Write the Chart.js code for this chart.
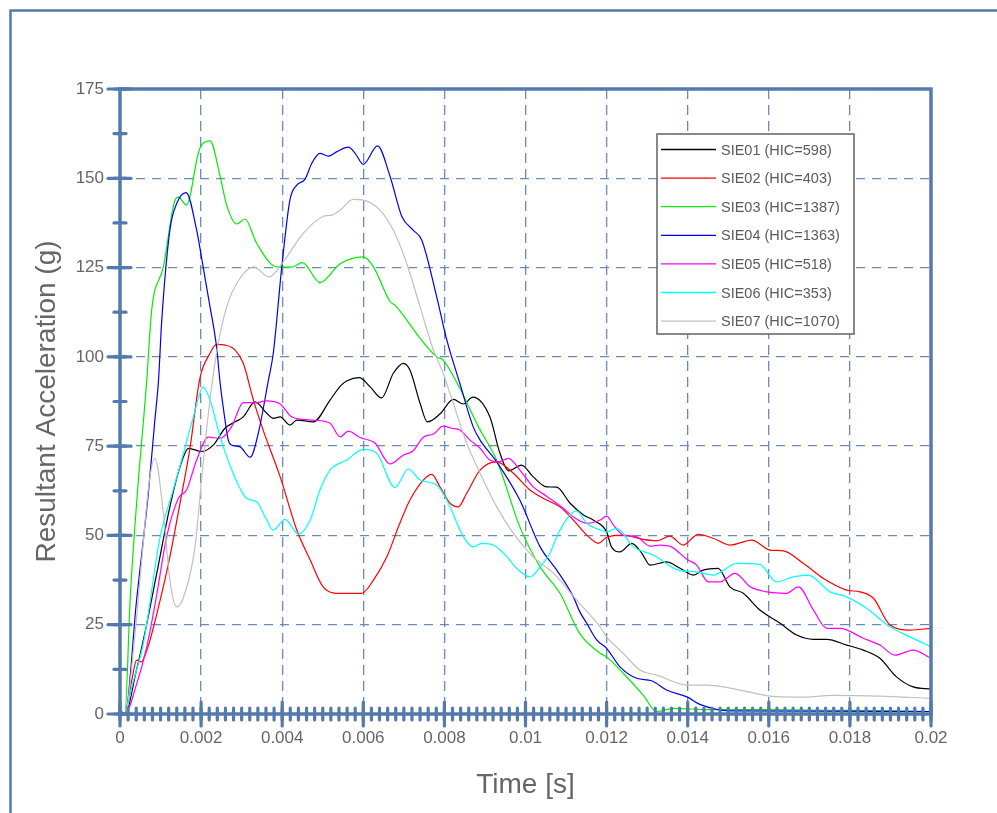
<!DOCTYPE html>
<html>
<head>
<meta charset="utf-8">
<script src="https://cdn.jsdelivr.net/npm/chart.js@4.4.1/dist/chart.umd.min.js"></script>
<style>
  html, body { margin: 0; padding: 0; background: #fff; }
  #wrap { position: relative; width: 997px; height: 813px; overflow: hidden; }
</style>
</head>
<body>
<div id="wrap"><canvas id="hicChart" width="997" height="813"></canvas></div>
<script>
// time in ms, acceleration in g
const sie01T = [0, 0.12, 0.4, 0.6, 0.9, 1.23, 1.48, 1.69, 2.01, 2.3, 2.59, 2.84, 3.04, 3.33, 3.62, 3.78, 3.95, 4.19, 4.36, 4.77, 5.18, 5.45, 5.6, 5.9, 6.17, 6.45, 6.74, 6.99, 7.15, 7.4, 7.58, 7.89, 8.22, 8.47, 8.7, 9.12, 9.37, 9.58, 9.9, 10.19, 10.52, 10.77, 11.1, 11.43, 11.67, 12.0, 12.12, 12.33, 12.62, 12.87, 13.07, 13.48, 13.81, 14.14, 14.38, 14.75, 15.04, 15.37, 15.78, 16.28, 16.69, 17.1, 17.43, 17.92, 18.33, 18.74, 19.15, 19.56, 20];
const sie01G = [1, 0, 12, 22, 39, 58, 69.2, 74.4, 73.5, 75.3, 80, 81.8, 83.2, 87.4, 84.2, 82.8, 83.2, 80.9, 82.3, 81.8, 87.9, 92, 93.3, 94.2, 91.6, 88.5, 95.4, 98.2, 96.3, 87, 81.8, 84, 88.1, 86.8, 88.7, 83.2, 73, 68.1, 69.7, 66.4, 63.6, 63.5, 59, 55.7, 54.3, 51, 46.8, 45.4, 47.8, 45, 41.7, 42.6, 40.8, 38.9, 40.3, 40.8, 35.6, 33.8, 29.1, 25.4, 22.1, 20.9, 20.9, 19.3, 17.9, 15.6, 10.4, 7.6, 7.0];

const sie02T = [0, 0.12, 0.3, 0.41, 0.53, 0.6, 0.74, 0.99, 1.23, 1.48, 1.73, 1.97, 2.22, 2.38, 2.59, 2.84, 3.04, 3.29, 3.53, 3.95, 4.36, 4.69, 5.01, 5.34, 5.96, 6.25, 6.58, 6.9, 7.15, 7.48, 7.69, 7.89, 8.14, 8.34, 8.55, 8.88, 9.29, 9.7, 10.11, 10.52, 10.85, 11.18, 11.51, 11.8, 12.0, 12.41, 12.9, 13.24, 13.56, 13.89, 14.26, 14.63, 15.04, 15.58, 16.03, 16.36, 16.85, 17.34, 17.92, 18.25, 18.58, 18.99, 19.48, 20];
const sie02G = [1, 0, 10, 15.1, 14.6, 16, 20.7, 31.9, 44, 59, 74.8, 94, 101, 103.5, 103.3, 101.9, 98.2, 87.9, 79.5, 66.4, 51.5, 43.1, 35.6, 33.8, 33.8, 37.5, 44, 53.4, 59.9, 65.5, 67.1, 63.6, 59, 58, 61.8, 68.3, 70.6, 67.4, 62.7, 59.9, 58, 54.3, 50.1, 47.8, 49.5, 50.1, 48.9, 48.5, 49.8, 47.3, 50.3, 49.2, 47.3, 48.7, 45.9, 45.7, 42.2, 38, 34.7, 34.2, 32.4, 24.9, 23.5, 24];

const sie03T = [0, 0.12, 0.25, 0.45, 0.58, 0.66, 0.78, 1.07, 1.36, 1.44, 1.64, 1.93, 2.01, 2.22, 2.47, 2.63, 2.88, 3.08, 3.37, 3.86, 4.23, 4.5, 4.93, 5.43, 6.0, 6.25, 6.66, 6.78, 7.4, 7.81, 7.97, 8.38, 8.84, 9.3, 9.86, 10.36, 10.85, 11.34, 11.84, 12.0, 12.41, 12.9, 13.24, 13.64, 14.5, 16, 18, 20];
const sie03G = [1, 0, 32, 65, 82.3, 93.5, 113, 125.2, 144, 144.7, 142.5, 157, 159.3, 160.5, 150.5, 142.5, 137.2, 138.6, 131.8, 125.2, 125.1, 126.4, 120.8, 126.1, 128, 125.2, 115.5, 114.5, 105.2, 100, 99.1, 91.2, 80.4, 70.8, 52.4, 41.2, 33.8, 22.5, 17, 16, 11.4, 5.3, 0.7, 1.6, 1.2, 1.2, 1, 0.7];

const sie04T = [0, 0.12, 0.41, 0.7, 0.86, 0.95, 1.03, 1.23, 1.4, 1.63, 1.89, 2.05, 2.22, 2.38, 2.47, 2.59, 2.67, 2.75, 2.96, 3.21, 3.41, 3.66, 3.78, 3.99, 4.19, 4.36, 4.56, 4.73, 4.93, 5.14, 5.34, 5.63, 5.8, 6.0, 6.35, 6.66, 6.95, 7.23, 7.44, 7.81, 8.06, 8.38, 8.71, 8.88, 9.29, 9.86, 10.36, 10.77, 11.18, 11.34, 11.51, 11.76, 12.0, 12.33, 12.74, 13.11, 13.48, 13.98, 14.3, 15.04, 17, 20];
const sie04G = [1, 0, 32, 62, 82.3, 93.5, 110.3, 135.5, 143, 146, 135.5, 125.2, 114, 102.9, 92.6, 82.3, 76.7, 75.3, 74.8, 71.9, 78.6, 93.5, 101, 125.2, 143.9, 148.1, 149.7, 154.2, 157, 156.2, 157.4, 158.7, 157, 153.9, 159.1, 150.5, 139.3, 135.5, 132.7, 116.8, 104.7, 92.6, 80.4, 76.7, 70.6, 59.9, 46.8, 40.3, 32.8, 28.6, 25.4, 20.7, 18.4, 13.2, 10, 9.3, 6.7, 4.8, 2.7, 0.9, 0.8, 0.7];

const sie05T = [0, 0.12, 0.4, 0.66, 0.9, 1.15, 1.44, 1.64, 1.89, 2.18, 2.47, 2.75, 3.04, 3.37, 3.62, 3.95, 4.23, 4.52, 4.77, 5.18, 5.43, 5.63, 5.92, 6.29, 6.66, 6.99, 7.23, 7.48, 7.73, 7.97, 8.18, 8.38, 8.63, 8.88, 9.12, 9.33, 9.58, 9.86, 10.19, 10.52, 10.93, 11.18, 11.51, 11.84, 12.0, 12.17, 12.41, 12.74, 13.07, 13.32, 13.6, 13.98, 14.22, 14.51, 14.8, 15.17, 15.54, 15.95, 16.44, 16.73, 17.1, 17.43, 17.76, 18.33, 18.74, 19.11, 19.56, 20];
const sie05G = [1, 0, 8, 18.8, 33, 49.6, 60.4, 62.7, 71.1, 77.5, 77.2, 80.4, 87.2, 87.2, 87.7, 86.8, 83.2, 82.5, 82.3, 81.4, 77.6, 79.2, 77.4, 75.8, 70, 72.5, 73.7, 77.5, 78.4, 80.6, 80, 79.5, 76.7, 74.4, 71.1, 70.6, 71.6, 68.3, 63.6, 61, 57.6, 55.2, 53.4, 54.3, 55.4, 52.9, 50.1, 49.6, 47, 47.3, 46.8, 43.3, 41.7, 37, 37, 39.4, 35.6, 34.2, 33.8, 35.6, 29.1, 24, 24, 21.2, 19.3, 16.5, 17.9, 15.6];

const sie06T = [0, 0.12, 0.3, 0.58, 0.99, 1.31, 1.52, 1.81, 2.05, 2.22, 2.47, 2.79, 3.12, 3.37, 3.58, 3.78, 4.07, 4.4, 4.69, 4.93, 5.18, 5.59, 6.0, 6.33, 6.78, 7.11, 7.4, 7.81, 8.06, 8.47, 8.71, 8.92, 9.21, 9.54, 9.78, 10.11, 10.36, 10.6, 10.85, 11.26, 11.51, 11.84, 12.0, 12.25, 12.66, 13.15, 13.77, 14.22, 14.63, 15.21, 15.78, 16.19, 16.6, 16.97, 17.51, 17.92, 18.41, 18.99, 19.48, 20];
const sie06G = [1, 0, 8, 20, 49.6, 62.7, 71.1, 83.2, 91.5, 87.9, 77.6, 67.4, 60.4, 59.4, 55.2, 51.5, 54.5, 50.4, 54.3, 62.7, 68.3, 71.1, 74.1, 73, 63.4, 68.6, 65.5, 64.1, 59.9, 49.6, 46.8, 47.8, 47.3, 44, 40.8, 38.4, 41.2, 45, 51.5, 56.9, 53.4, 51.5, 51, 52, 46.8, 44.5, 40.3, 39.8, 38.9, 42.2, 41.9, 37, 38.4, 38.9, 34.2, 32.8, 29.6, 24.4, 21.6, 18.8];

const sie07T = [0, 0.12, 0.35, 0.55, 0.72, 0.86, 1.07, 1.23, 1.4, 1.6, 1.85, 2.01, 2.18, 2.38, 2.63, 2.96, 3.29, 3.68, 4.03, 4.52, 5.01, 5.22, 5.43, 5.75, 6.0, 6.41, 6.74, 7.07, 7.4, 7.73, 7.95, 8.22, 8.55, 8.88, 9.29, 9.7, 10.19, 10.69, 11.26, 11.84, 12.0, 12.41, 12.82, 13.24, 13.98, 14.47, 15.29, 16.03, 16.77, 17.59, 18.74, 20];
const sie07G = [1, 0, 20, 45, 65, 71.6, 56.2, 37.5, 30, 33.8, 46.8, 65.5, 84.2, 101, 114, 122, 125.2, 122.4, 126.7, 134.6, 139.3, 139.7, 141.1, 144.1, 143.9, 141.1, 135.5, 126.2, 114, 101.9, 96, 87, 75.8, 67.4, 58, 50.6, 44, 39.4, 31.9, 24.4, 21.6, 17, 12.3, 10.9, 8.1, 8.1, 6.7, 5.0, 4.7, 5.2, 5.0, 4.4];

const seriesNames = ['SIE01 (HIC=598)', 'SIE02 (HIC=403)', 'SIE03 (HIC=1387)', 'SIE04 (HIC=1363)', 'SIE05 (HIC=518)', 'SIE06 (HIC=353)', 'SIE07 (HIC=1070)'];
const seriesColors = ['#000000', '#ff0000', '#00ee00', '#0000ee', '#ff00ff', '#00ffff', '#c0c0c0'];

const xTickValues = [0, 0.002, 0.004, 0.006, 0.008, 0.01, 0.012, 0.014, 0.016, 0.018, 0.02];
const yTickValues = [0, 25, 50, 75, 100, 125, 150, 175];
const xMinorStep = 0.0002;
const yMinorStep = 12.5;

const axisBlue = '#5479ab';
const gridBlue = '#6a8bb8';
const fontFamily = '"Liberation Sans", Arial, sans-serif';

const allT = [sie01T, sie02T, sie03T, sie04T, sie05T, sie06T, sie07T];
const allG = [sie01G, sie02G, sie03G, sie04G, sie05G, sie06G, sie07G];

const datasets = seriesNames.map((name, i) => ({
  label: name,
  data: allT[i].map((t, j) => ({ x: t / 1000, y: allG[i][j] })),
  borderColor: seriesColors[i],
  borderWidth: 1.2,
  pointRadius: 0,
  fill: false,
  cubicInterpolationMode: 'monotone',
  order: seriesNames.length - i
}));

function roundLine(ctx, x1, y1, x2, y2) {
  ctx.beginPath();
  ctx.moveTo(x1, y1);
  ctx.lineTo(x2, y2);
  ctx.stroke();
}

// frame, major/minor ticks, legend box
const decorations = {
  id: 'decorations',
  beforeDraw(chart) {
    const ctx = chart.ctx;
    ctx.save();
    ctx.strokeStyle = axisBlue;
    ctx.lineWidth = 2.5;
    ctx.beginPath();
    ctx.moveTo(10.5, 813);
    ctx.lineTo(10.5, 10.5);
    ctx.lineTo(997, 10.5);
    ctx.stroke();
    ctx.restore();
  },
  afterDatasetsDraw(chart) {
    const ctx = chart.ctx;
    const a = chart.chartArea;
    const xs = chart.scales.x;
    const ys = chart.scales.y;
    ctx.save();
    ctx.strokeStyle = axisBlue;
    ctx.lineCap = 'round';

    // minor ticks
    ctx.lineWidth = 3.2;
    for (let v = 0; v <= 0.02 + 1e-9; v += xMinorStep) {
      const px = xs.getPixelForValue(v);
      roundLine(ctx, px, a.bottom - 6, px, a.bottom + 6);
    }
    for (let v = 0; v <= 175 + 1e-9; v += yMinorStep) {
      const py = ys.getPixelForValue(v);
      roundLine(ctx, a.left - 6, py, a.left + 6, py);
    }
    // major ticks
    xTickValues.forEach(v => {
      const px = xs.getPixelForValue(v);
      roundLine(ctx, px, a.bottom - 12, px, a.bottom + 12);
    });
    yTickValues.forEach(v => {
      const py = ys.getPixelForValue(v);
      roundLine(ctx, a.left - 12, py, a.left + 11, py);
    });

    // plot frame
    ctx.lineCap = 'butt';
    ctx.lineWidth = 3.5;
    ctx.strokeRect(a.left, a.top, a.right - a.left, a.bottom - a.top);

    // legend
    const bx = a.left + 537, by = a.top + 45, bw = 197, bh = 200;
    ctx.fillStyle = '#ffffff';
    ctx.fillRect(bx, by, bw, bh);
    ctx.strokeStyle = '#6b6b6b';
    ctx.lineWidth = 1.6;
    ctx.strokeRect(bx, by, bw, bh);
    ctx.font = '14.5px ' + fontFamily;
    ctx.textBaseline = 'middle';
    ctx.textAlign = 'left';
    chart.data.datasets.forEach((ds, i) => {
      const ry = by + 15.5 + i * 28.6;
      ctx.strokeStyle = ds.borderColor;
      ctx.lineWidth = 1.3;
      roundLine(ctx, bx + 4, ry, bx + 59, ry);
      ctx.fillStyle = '#5a5a5a';
      ctx.fillText(ds.label, bx + 64, ry + 1);
    });
    ctx.restore();
  }
};

document.addEventListener('DOMContentLoaded', function () {
  const ctx = document.getElementById('hicChart');

  new Chart(ctx, {
    type: 'line',
    data: { datasets: datasets },
    plugins: [decorations],
    options: {
      responsive: false,
      animation: false,
      layout: { padding: { top: 89, right: 66, left: 0, bottom: 0 } },
      plugins: { legend: { display: false }, tooltip: { enabled: false } },
      scales: {
        x: {
          type: 'linear',
          min: 0,
          max: 0.02,
          afterFit: s => { s.height = 99; },
          afterBuildTicks: s => { s.ticks = xTickValues.map(v => ({ value: v })); },
          ticks: {
            autoSkip: false,
            maxRotation: 0,
            padding: 14,
            color: '#666',
            font: { size: 17, family: fontFamily },
            callback: v => String(Number(v.toFixed(3)))
          },
          grid: { color: gridBlue, lineWidth: 1.3, drawTicks: false },
          border: { display: false, dash: [10, 6] },
          title: {
            display: true,
            text: 'Time [s]',
            color: '#666',
            font: { size: 28, family: fontFamily },
            padding: { top: 0, bottom: 11 }
          }
        },
        y: {
          min: 0,
          max: 175,
          afterFit: s => { s.width = 120; },
          afterBuildTicks: s => { s.ticks = yTickValues.map(v => ({ value: v })); },
          ticks: {
            padding: 16,
            color: '#666',
            font: { size: 17, family: fontFamily }
          },
          grid: { color: gridBlue, lineWidth: 1.3, drawTicks: false },
          border: { display: false, dash: [9, 7] },
          title: {
            display: true,
            text: 'Resultant Acceleration (g)',
            color: '#666',
            font: { size: 28, family: fontFamily },
            padding: { top: 30, bottom: 0 }
          }
        }
      }
    }
  });
});
</script>
</body>
</html>
